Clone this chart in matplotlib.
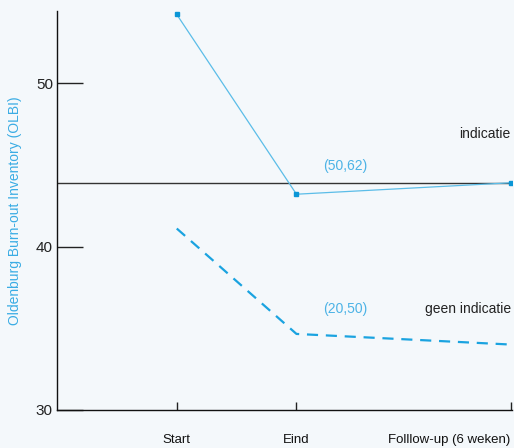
import matplotlib.pyplot as plt

plt.rcParams['font.family'] = ['Liberation Sans', 'DejaVu Sans']

# x positions of the three measurement moments
x_pos = [1.0, 2.0, 3.79]
x_labels = ["Start", "Eind", "Folllow-up (6 weken)"]

indicatie = [54.2, 43.2, 43.9]
geen_indicatie = [41.1, 34.65, 34.0]
grens = 43.9

bg = "#f4f8fb"
blue = "#1aa3e0"

fig = plt.figure(figsize=(5.14, 4.48), dpi=100, facecolor=bg)
ax = fig.add_axes([0.111, 0.085, 0.885, 0.89], facecolor=bg)

ax.axhline(grens, color="#333333", lw=1.0)
ax.plot(x_pos, indicatie, color="#5bbde8", lw=0.9, marker="s", ms=3.5,
        mfc="#0a96d6", mec="#0a96d6")
ax.plot(x_pos, geen_indicatie, color=blue, lw=1.6, ls=(0, (5, 3.5)))

ax.text(3.79, 46.9, "indicatie", ha="right", va="center", fontsize=10, color="#222222")
ax.text(2.22, 44.9, "(50,62)", ha="left", va="center", fontsize=10, color="#4cb3e6")
ax.text(2.22, 36.2, "(20,50)", ha="left", va="center", fontsize=10, color="#4cb3e6")
ax.text(3.79, 36.2, "geen indicatie", ha="right", va="center", fontsize=10, color="#222222")

ax.set_xlim(0, 3.8)
ax.set_ylim(30, 54.4)
ax.set_yticks([30, 40, 50])
ax.set_xticks(x_pos)
ax.set_xticklabels(x_labels)
ax.get_xticklabels()[-1].set_horizontalalignment("right")
ax.tick_params(axis="y", direction="in", length=19, width=1.0, labelsize=11, pad=3,
               color="#222222", labelcolor="#222222")
ax.tick_params(axis="x", direction="in", length=6, width=1.0, labelsize=9.5, pad=17,
               color="#222222", labelcolor="#111111")
for s in ["top", "right"]:
    ax.spines[s].set_visible(False)
for s in ["left", "bottom"]:
    ax.spines[s].set_color("#111111")
    ax.spines[s].set_linewidth(1.0)

ax.set_ylabel("Oldenburg Burn-out Inventory (OLBI)", color="#3aace4", fontsize=10, labelpad=10)

fig.savefig("out.png", dpi=100, facecolor=bg)
